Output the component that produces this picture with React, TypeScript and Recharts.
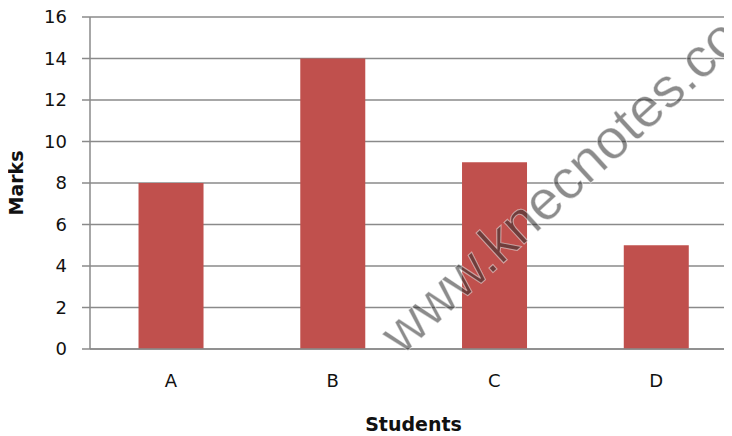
import { BarChart, Bar, CartesianGrid, XAxis, YAxis } from "recharts";

const students = ["A", "B", "C", "D"];
const marks = [8, 14, 9, 5];
const yTicks = [0, 2, 4, 6, 8, 10, 12, 14, 16];

const data = students.map((name, i) => ({ name, marks: marks[i] }));

const font = "'DejaVu Sans', Verdana, sans-serif";

// rotated y axis title, centred on the plot
const MarksLabel = (props: any) => {
    const vb = props.viewBox || {};
    const cx = 16;
    const cy = vb.y + vb.height / 2;
    return (
        <text
            x={cx}
            y={cy}
            transform={`rotate(-90 ${cx} ${cy})`}
            textAnchor="middle"
            dominantBaseline="central"
            fill="#111"
            fontSize={19}
            fontWeight="bold"
            fontFamily={font}
        >
            Marks
        </text>
    );
};

const App = () => {
    return (
        <div style={{ position: "relative", margin: "-8px 0 0 -8px", width: 732, height: 436, overflow: "hidden", background: "#fff" }}>
            <BarChart
                width={740}
                height={436}
                data={data}
                margin={{ top: 17, right: 3, bottom: 0, left: 0 }}
                barCategoryGap="30%"
            >
                <CartesianGrid vertical={false} stroke="#8a8a8a" strokeWidth={1.5} />
                <XAxis
                    dataKey="name"
                    height={87}
                    tickLine={false}
                    axisLine={{ stroke: "#8a8a8a", strokeWidth: 1.5 }}
                    tick={{ fill: "#111", fontSize: 18, fontFamily: font }}
                    tickMargin={19}
                    label={{
                        value: "Students",
                        position: "insideBottom",
                        offset: 5,
                        fill: "#111",
                        fontSize: 19,
                        fontWeight: "bold",
                        fontFamily: font,
                    }}
                />
                <YAxis
                    width={90}
                    domain={[0, 16]}
                    ticks={yTicks}
                    interval={0}
                    tickSize={8}
                    tickMargin={15}
                    tickLine={{ stroke: "#8a8a8a", strokeWidth: 1.5 }}
                    axisLine={{ stroke: "#8a8a8a", strokeWidth: 1.5 }}
                    tick={{ fill: "#111", fontSize: 18, fontFamily: font }}
                    label={<MarksLabel />}
                />
                <Bar dataKey="marks" fill="#c0504d" isAnimationActive={false} />
            </BarChart>
            {/* watermark, runs off the right edge like the original */}
            <svg width={732} height={436} style={{ position: "absolute", left: 0, top: 0, pointerEvents: "none" }}>
                <text
                    x={402}
                    y={356}
                    transform="rotate(-42.5 402 356)"
                    fontFamily="'Liberation Sans', Arial, sans-serif"
                    fontSize={56}
                    fill="rgba(45,45,45,0.55)"
                    stroke="rgba(255,255,255,0.5)"
                    strokeWidth={1}
                >
                    www.knecnotes.co
                </text>
            </svg>
        </div>
    );
};

export default App;
